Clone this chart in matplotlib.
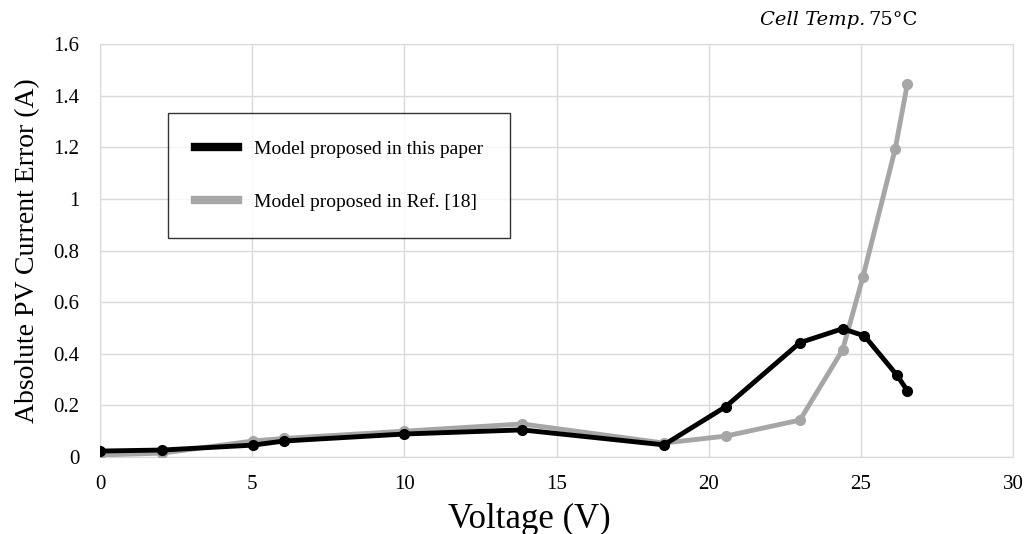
import numpy as np
import matplotlib.pyplot as plt

# Data
v_this = [0, 2.04, 5.03, 6.05, 10.0, 13.87, 18.53, 20.56, 23.0, 24.4, 25.12, 26.18, 26.53]
i_this = [0.023, 0.027, 0.046, 0.062, 0.089, 0.105, 0.047, 0.195, 0.443, 0.497, 0.469, 0.318, 0.257]

v_ref = [0, 2.04, 5.03, 6.05, 10.0, 13.87, 18.53, 20.56, 23.0, 24.4, 25.07, 26.13, 26.53]
i_ref = [0.008, 0.015, 0.062, 0.072, 0.100, 0.128, 0.054, 0.081, 0.143, 0.415, 0.698, 1.194, 1.446]

labels = ["Model proposed in this paper", "Model proposed in Ref. [18]"]

serif = "Liberation Serif"

fig = plt.figure(figsize=(10.3, 5.34), dpi=100)
ax = fig.add_axes([100 / 1030, 1 - 457 / 534, 913 / 1030, 413 / 534])

ax.plot(v_ref, i_ref, color="#a6a6a6", lw=3.5, marker="o", ms=7, zorder=3)
ax.plot(v_this, i_this, color="black", lw=3.5, marker="o", ms=7, zorder=4)

ax.set_xlim(0, 30)
ax.set_ylim(0, 1.6)
ax.set_xticks(np.arange(0, 31, 5))
ax.set_yticks(np.arange(0, 1.61, 0.2))
ax.set_yticklabels(["0", "0.2", "0.4", "0.6", "0.8", "1", "1.2", "1.4", "1.6"])
ax.tick_params(length=0, labelsize=15)
ax.tick_params(axis="x", pad=13)
ax.tick_params(axis="y", pad=15)
for lab in ax.get_xticklabels() + ax.get_yticklabels():
    lab.set_family(serif)
ax.grid(True, color="#d9d9d9", lw=1)
for s in ax.spines.values():
    s.set_color("#d9d9d9")

ax.set_xlabel("Voltage (V)", family=serif, fontsize=25)
ax.xaxis.set_label_coords(429 / 913, -46 / 413)  # label sits a bit left of centre
ax.set_ylabel("Absolute PV Current Error (A)", family=serif, fontsize=20, labelpad=9)

# legend with thick plain lines, no markers
handles = [plt.Line2D([], [], color="black", lw=6), plt.Line2D([], [], color="#a6a6a6", lw=6)]
leg = ax.legend(handles, labels, loc="upper left", bbox_to_anchor=(68 / 913, 1 - 69 / 413),
                prop={"family": serif, "size": 14}, frameon=True, fancybox=False,
                edgecolor="black", borderpad=1.4, labelspacing=1.8, handlelength=2.2,
                handletextpad=0.8, borderaxespad=0)
leg.get_frame().set_linewidth(1)

fig.text(760 / 1030, 1 - 20 / 534, "Cell Temp.", family="DejaVu Serif", style="italic",
         fontsize=14, va="center")
fig.text(868 / 1030, 1 - 20 / 534, "75\u00b0C", family="DejaVu Serif", fontsize=14, va="center")

fig.savefig("out.png", dpi=100)
